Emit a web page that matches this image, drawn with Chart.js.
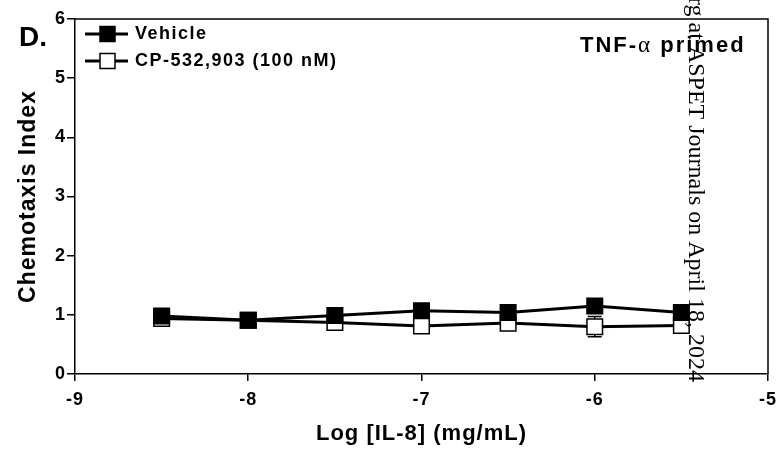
<!DOCTYPE html>
<html>
<head>
<meta charset="utf-8">
<script src="https://cdn.jsdelivr.net/npm/chart.js"></script>
<style>
  html, body { margin: 0; padding: 0; background: #fff; }
  #wrap { width: 784px; height: 449px; position: relative; }
</style>
</head>
<body>
<div id="wrap"><canvas id="chemoChart"></canvas></div>
<script>
// --- data ---
const logDose = [-8.5, -8, -7.5, -7, -6.5, -6, -5.5];
const vehicle = [0.98, 0.91, 0.99, 1.07, 1.04, 1.15, 1.04];
const vehicleErr = [0.03, 0.02, 0.12, 0.04, 0.03, 0.04, 0.04];
const cp532 = [0.94, 0.91, 0.87, 0.81, 0.86, 0.80, 0.82];
const cp532Err = [0.03, 0.02, 0.06, 0.09, 0.03, 0.17, 0.09];
const seriesNames = ['Vehicle', 'CP-532,903 (100 nM)'];
const xTicks = [-9, -8, -7, -6, -5];
const yTicks = [0, 1, 2, 3, 4, 5, 6];

const SANS = '"Liberation Sans", Arial, sans-serif';
const SERIF = '"Liberation Serif", "Times New Roman", serif';

function pts(ys) {
    return logDose.map((x, i) => ({ x: x, y: ys[i] }));
}

// the figure's lettering is a little wider than plain Arial
const spacing = {
    id: 'spacing',
    beforeDraw(chart) { chart.ctx.letterSpacing = '1px'; }
};

// error bars, drawn under the markers
const errorBars = {
    id: 'errorBars',
    beforeDatasetsDraw(chart) {
        const { ctx, scales: { x, y } } = chart;
        const sets = [[cp532, cp532Err], [vehicle, vehicleErr]];
        ctx.save();
        ctx.strokeStyle = '#000';
        ctx.lineWidth = 1.5;
        sets.forEach(([vals, errs]) => {
            vals.forEach((v, i) => {
                const px = x.getPixelForValue(logDose[i]);
                const top = y.getPixelForValue(v + errs[i]);
                const bot = y.getPixelForValue(v - errs[i]);
                ctx.beginPath();
                ctx.moveTo(px, top); ctx.lineTo(px, bot);
                ctx.moveTo(px - 7, top); ctx.lineTo(px + 7, top);
                ctx.moveTo(px - 7, bot); ctx.lineTo(px + 7, bot);
                ctx.stroke();
            });
        });
        ctx.restore();
    }
};

// frame, legend, labels, watermark
const decorations = {
    id: 'decorations',
    afterDraw(chart) {
        const { ctx, chartArea: a } = chart;
        ctx.save();
        ctx.strokeStyle = '#000';
        ctx.lineWidth = 1.5;
        ctx.beginPath();
        ctx.moveTo(a.left, a.top); ctx.lineTo(a.right, a.top); ctx.lineTo(a.right, a.bottom);
        ctx.stroke();

        // legend
        const rows = [{ y: 34, fill: '#000' }, { y: 61, fill: '#fff' }];
        rows.forEach((r, i) => {
            ctx.lineWidth = 3;
            ctx.beginPath();
            ctx.moveTo(85, r.y); ctx.lineTo(128, r.y);
            ctx.stroke();
            ctx.fillStyle = r.fill;
            ctx.lineWidth = 1.5;
            ctx.fillRect(100, r.y - 7.5, 15, 15);
            ctx.strokeRect(100, r.y - 7.5, 15, 15);
            ctx.fillStyle = '#000';
            ctx.font = 'bold 18px ' + SANS;
            ctx.letterSpacing = '1.5px';
            ctx.textBaseline = 'middle';
            ctx.textAlign = 'left';
            ctx.fillText(seriesNames[i], 135, r.y);
        });
        ctx.letterSpacing = '0px';

        // panel letter
        ctx.font = 'bold 28px ' + SANS;
        ctx.textBaseline = 'alphabetic';
        ctx.fillText('D.', 19, 46);

        // TNF-alpha primed
        ctx.letterSpacing = '2px';
        ctx.font = 'bold 22px ' + SANS;
        let tx = 580;
        ctx.fillText('TNF-', tx, 52);
        tx += ctx.measureText('TNF-').width;
        ctx.font = '23px ' + SERIF;
        ctx.fillText('\u03b1', tx, 52);
        tx += ctx.measureText('\u03b1').width;
        ctx.font = 'bold 22px ' + SANS;
        ctx.fillText(' primed', tx, 52);
        ctx.letterSpacing = '0px';

        // watermark from the source page
        ctx.translate(689, -3);
        ctx.rotate(Math.PI / 2);
        ctx.font = '24px ' + SERIF;
        ctx.textBaseline = 'alphabetic';
        ctx.fillText('rg at ASPET Journals on April 18, 2024', 0, 0);
        ctx.restore();
    }
};

new Chart(document.getElementById('chemoChart'), {
    type: 'line',
    data: {
        datasets: [{
            label: seriesNames[0],
            data: pts(vehicle),
            borderColor: '#000',
            borderWidth: 3,
            pointStyle: 'rect',
            pointRadius: 11,
            pointBackgroundColor: '#000',
            pointBorderColor: '#000',
            pointBorderWidth: 1.5,
            tension: 0
        }, {
            label: seriesNames[1],
            data: pts(cp532),
            borderColor: '#000',
            borderWidth: 3,
            pointStyle: 'rect',
            pointRadius: 11,
            pointBackgroundColor: '#fff',
            pointBorderColor: '#000',
            pointBorderWidth: 1.5,
            tension: 0
        }]
    },
    options: {
        responsive: true,
        maintainAspectRatio: false,
        animation: false,
        layout: { padding: { left: 0, top: 19, right: 9, bottom: 0 } },
        plugins: { legend: { display: false }, tooltip: { enabled: false } },
        scales: {
            x: {
                type: 'linear',
                min: xTicks[0],
                max: xTicks[xTicks.length - 1],
                afterBuildTicks: s => { s.ticks = xTicks.map(v => ({ value: v })); },
                afterFit: s => { s.height = 75; },
                grid: { drawOnChartArea: false, tickLength: 7, color: '#000', lineWidth: 1.5 },
                border: { color: '#000', width: 1.5 },
                ticks: { color: '#000', padding: 8, font: { family: SANS, size: 18, weight: 'bold' } },
                title: {
                    display: true,
                    text: 'Log [IL-8] (mg/mL)',
                    color: '#000',
                    padding: { top: 0, bottom: 2 },
                    font: { family: SANS, size: 22, weight: 'bold' }
                }
            },
            y: {
                min: yTicks[0],
                max: yTicks[yTicks.length - 1],
                afterBuildTicks: s => { s.ticks = yTicks.map(v => ({ value: v })); },
                afterFit: s => { s.width = 75; },
                grid: { drawOnChartArea: false, tickLength: 8, color: '#000', lineWidth: 1.5 },
                border: { color: '#000', width: 1.5 },
                ticks: { color: '#000', padding: 1, font: { family: SANS, size: 18, weight: 'bold' } },
                title: {
                    display: true,
                    text: 'Chemotaxis Index',
                    color: '#000',
                    padding: { top: 15, bottom: 0 },
                    font: { family: SANS, size: 23, weight: 'bold' }
                }
            }
        }
    },
    plugins: [spacing, errorBars, decorations]
});
</script>
</body>
</html>
